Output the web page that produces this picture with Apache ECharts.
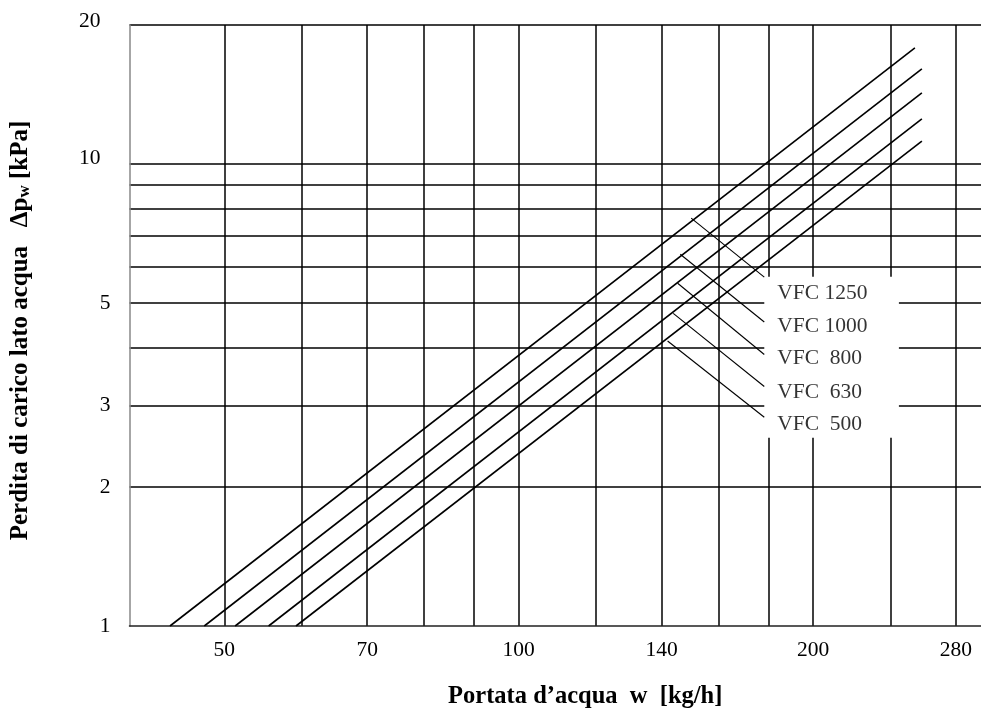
<!DOCTYPE html>
<html>
<head>
<meta charset="utf-8">
<script src="https://cdn.jsdelivr.net/npm/echarts@6/dist/echarts.min.js"></script>
<style>html,body{margin:0;padding:0;background:#fff}#c{width:981px;height:715px}</style>
</head>
<body>
<div id="c"></div>
<script>
const flowLabels = [50, 70, 100, 140, 200, 280];
const flowGrid = [50, 60, 70, 80, 90, 100, 120, 140, 160, 180, 200, 240, 280];
const dpLabels = [1, 2, 3, 5, 10, 20];
const dpGrid = [2, 3, 4, 5, 6, 7, 8, 9, 10, 20];
const models = ['VFC 1250', 'VFC 1000', 'VFC  800', 'VFC  630', 'VFC  500'];
const flowStart = [44.0, 47.7, 51.3, 55.5, 59.2];
const dpStart = [1, 1, 1, 1, 1];
const flowEnd = [254.2, 258.4, 258.4, 258.4, 258.4];
const dpEnd = [17.85, 16.07, 14.26, 12.52, 11.21];
const leaderFlowStart = [150.1, 146.3, 145.4, 143.9, 142.0];
const leaderDpStart = [7.64, 6.38, 5.52, 4.75, 4.14];
const leaderFlowEnd = [178.3, 178.3, 178.3, 178.3, 178.3];
const leaderDpEnd = [5.69, 4.55, 3.87, 3.30, 2.83];
const labelFlow = [183.8, 183.8, 183.8, 183.8, 183.8];
const labelDp = [5.25, 4.455, 3.79, 3.20, 2.73];
const boxFlow = [178.3, 244.8];
const boxDp = [2.557, 5.70];

const FONT = '"Liberation Serif", "Times New Roman", serif';
const chart = echarts.init(document.getElementById('c'), null, {renderer: 'canvas'});

const series = models.map((m, i) => ({
  name: m,
  type: 'line',
  data: [[flowStart[i], dpStart[i]], [flowEnd[i], dpEnd[i]]],
  showSymbol: false,
  symbol: 'none',
  lineStyle: {color: '#000', width: 1.6},
  silent: true,
  animation: false,
  z: 3
}));

series.push({
  name: 'leaders',
  type: 'lines',
  coordinateSystem: 'cartesian2d',
  polyline: false,
  silent: true,
  animation: false,
  z: 4,
  lineStyle: {color: '#000', width: 1.1, opacity: 1},
  data: models.map((m, i) => ({
    coords: [[leaderFlowStart[i], leaderDpStart[i]], [leaderFlowEnd[i], leaderDpEnd[i]]]
  }))
});

series.push({
  name: 'box',
  type: 'scatter',
  silent: true,
  animation: false,
  symbolSize: 0,
  z: 2,
  data: [],
  markArea: {
    silent: true,
    itemStyle: {color: '#fff', opacity: 1, borderWidth: 0},
    data: [[{coord: [boxFlow[0], boxDp[0]]}, {coord: [boxFlow[1], boxDp[1]]}]]
  }
});

series.push({
  name: 'labels',
  type: 'scatter',
  silent: true,
  animation: false,
  symbolSize: 0,
  z: 5,
  data: models.map((m, i) => ({value: [labelFlow[i], labelDp[i]], name: m})),
  label: {
    show: true,
    position: 'right',
    distance: 0,
    formatter: p => p.name,
    fontFamily: FONT,
    fontSize: 21.5,
    color: '#000'
  }
});

chart.setOption({
  backgroundColor: '#fff',
  animation: false,
  grid: {left: 129, right: 0, top: 25, bottom: 89, containLabel: false},
  xAxis: {
    type: 'log',
    logBase: 10,
    min: 40,
    max: 297,
    name: 'Portata d\u2019acqua  w  [kg/h]',
    nameLocation: 'middle',
    nameGap: 58,
    nameTextStyle: {fontFamily: FONT, fontSize: 24.5, fontWeight: 'bold', color: '#000', padding: [0, 0, 0, 60]},
    axisLine: {show: true, lineStyle: {color: '#222', width: 1.5}},
    axisTick: {show: false, customValues: flowGrid},
    axisLabel: {
      customValues: flowLabels,
      margin: 13,
      fontFamily: FONT, fontSize: 21.5, color: '#000',
      formatter: v => String(Math.round(v))
    },
    splitLine: {show: true, lineStyle: {color: '#000', width: 1.5}},
    minorSplitLine: {show: false}
  },
  yAxis: {
    type: 'log',
    logBase: 10,
    min: 1,
    max: 20,
    name: 'Perdita di carico lato acqua   \u0394p{sub|w} [kPa]',
    nameLocation: 'middle',
    nameGap: 96,
    nameRotate: 90,
    nameTextStyle: {
      fontFamily: FONT, fontSize: 25, fontWeight: 'bold', color: '#000', padding: [0, 10, 0, 0],
      rich: {
        sub: {fontFamily: FONT, fontSize: 17, fontWeight: 'bold', color: '#000', verticalAlign: 'bottom', padding: [9, 0, 0, 0]}
      }
    },
    axisLine: {show: true, lineStyle: {color: '#888', width: 1.5}},
    axisTick: {show: false, customValues: dpGrid},
    axisLabel: {
      customValues: dpLabels,
      margin: 19,
      fontFamily: FONT, fontSize: 21.5, color: '#000',
      formatter: v => {
        const r = Math.round(v);
        if (r === 10) return '{a|' + r + '}';
        if (r === 20) return '{b|' + r + '}';
        return String(r);
      },
      rich: {
        a: {fontFamily: FONT, fontSize: 21.5, color: '#000', padding: [0, 10, 12, 0]},
        b: {fontFamily: FONT, fontSize: 21.5, color: '#000', padding: [0, 10, 8, 0]}
      }
    },
    splitLine: {show: true, lineStyle: {color: '#000', width: 1.5}},
    minorSplitLine: {show: false}
  },
  series: series
});
</script>
</body>
</html>
